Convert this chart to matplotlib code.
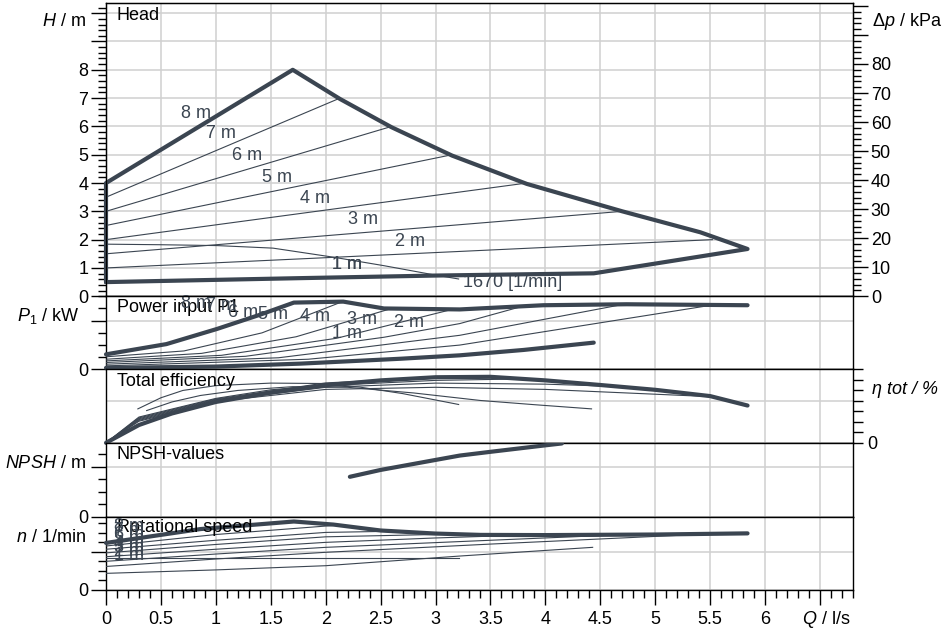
import matplotlib
matplotlib.use('Agg')
import matplotlib.pyplot as plt
from matplotlib.ticker import MultipleLocator, FixedLocator, FuncFormatter

plt.rcParams['font.family'] = ['Liberation Sans', 'DejaVu Sans']
plt.rcParams['mathtext.fontset'] = 'custom'
plt.rcParams['mathtext.rm'] = 'Liberation Sans'
plt.rcParams['mathtext.it'] = 'Liberation Sans:italic'

LINE = '#3b4551'
GRID = '#d0d0d0'
FS = 13
THICK = 3.0
THIN = 0.8

# ---------------- Head panel (H / m) ----------------
head_env_q = [0.0, 0.0, 1.70, 2.13, 2.60, 3.15, 3.83, 4.70, 5.41, 5.84, 4.44, 2.98, 1.77, 0.0]
head_env_h = [0.5, 4.0, 8.0, 6.97, 5.97, 4.97, 3.97, 3.0, 2.26, 1.67, 0.81, 0.73, 0.64, 0.5]
dpv_levels = ['7 m', '6 m', '5 m', '4 m', '3 m', '2 m']
dpv_h_start = [3.5, 3.0, 2.5, 2.0, 1.5, 1.0]
dpv_q_end = [2.13, 2.60, 3.15, 3.83, 4.70, 5.52]
dpv_h_end = [7.0, 6.0, 5.0, 4.0, 3.0, 2.0]
n1670_q = [0.0, 0.5, 1.01, 1.52, 2.07, 2.53, 2.98, 3.21]
n1670_h = [1.84, 1.82, 1.79, 1.70, 1.38, 1.08, 0.76, 0.61]
head_lbl = ['8 m', '7 m', '6 m', '5 m', '4 m', '3 m', '2 m', '1 m']
head_lbl_q = [0.82, 1.05, 1.28, 1.56, 1.90, 2.34, 2.77, 2.19]
head_lbl_h = [6.44, 5.74, 4.97, 4.19, 3.44, 2.71, 1.94, 1.11]

# ---------------- Power panel (P1 / kW) ----------------
pmax_q = [0.0, 0.55, 1.01, 1.40, 1.71, 2.16, 2.53, 3.22, 3.98, 4.74, 5.84]
pmax_p = [0.031, 0.052, 0.083, 0.112, 0.137, 0.139, 0.125, 0.123, 0.1316, 0.1336, 0.1316]
pmin_q = [0.0, 1.0, 1.77, 2.68, 3.22, 3.8, 4.44]
pmin_p = [0.0033, 0.006, 0.012, 0.022, 0.029, 0.040, 0.055]
p7_q = [0.0, 0.71, 1.42, 2.13]; p7_p = [0.026, 0.038, 0.075, 0.137]
p6_q = [0.0, 0.87, 1.73, 2.60]; p6_p = [0.021, 0.033, 0.067, 0.125]
p5_q = [0.0, 1.05, 2.10, 3.15]; p5_p = [0.0176, 0.029, 0.064, 0.123]
p4_q = [0.0, 1.27, 2.53, 3.22, 3.80]; p4_p = [0.0143, 0.027, 0.066, 0.094, 0.130]
p3_q = [0.0, 1.57, 3.22, 4.70]; p3_p = [0.0108, 0.024, 0.070, 0.133]
p2_q = [0.0, 1.84, 3.22, 5.52]; p2_p = [0.0074, 0.021, 0.050, 0.132]
pow_lbl = ['8 m', '7 m', '6 m', '5 m', '4 m', '3 m', '2 m', '1 m']
pow_lbl_q = [0.82, 1.05, 1.25, 1.52, 1.90, 2.33, 2.76, 2.19]
pow_lbl_p = [0.136, 0.132, 0.117, 0.113, 0.109, 0.103, 0.097, 0.074]

# ---------------- Efficiency panel (eta tot / %) ----------------
emax_q = [0.0, 0.3, 0.6, 1.0, 1.5, 2.0, 2.5, 3.0, 3.5, 4.0, 4.5, 5.0, 5.5, 5.84]
emax_e = [0.0, 8.5, 14.0, 19.5, 24.0, 27.5, 29.8, 31.3, 31.5, 29.8, 27.6, 25.3, 22.3, 17.8]
e7_q = [0.0, 0.3, 1.0, 1.5, 2.13]; e7_e = [0.0, 12.3, 21.2, 25.3, 28.2]
e6_q = [0.0, 0.3, 1.0, 2.0, 2.6]; e6_e = [0.0, 11.9, 20.9, 28.6, 30.1]
e5_q = [0.0, 0.3, 1.0, 2.0, 3.15]; e5_e = [0.0, 11.5, 20.6, 28.0, 31.3]
e4_q = [0.0, 0.3, 1.0, 2.0, 3.0, 3.8]; e4_e = [0.0, 11.1, 20.3, 27.3, 29.8, 30.5]
e3_q = [0.0, 0.3, 1.0, 2.0, 3.0, 4.0, 4.7]; e3_e = [0.0, 10.7, 20.0, 26.5, 28.5, 28.0, 26.8]
e2_q = [0.0, 0.3, 1.0, 2.0, 3.0, 4.0, 5.0, 5.52]; e2_e = [0.0, 10.3, 19.7, 25.5, 26.5, 25.5, 23.2, 22.0]
e1670_q = [0.29, 0.5, 0.7, 1.0, 1.5, 2.0, 2.31, 2.7, 3.21]
e1670_e = [16.2, 21.5, 25.0, 27.3, 28.5, 28.3, 26.6, 23.5, 18.3]
emin_q = [0.37, 0.6, 0.86, 1.2, 1.7, 2.2, 2.8, 3.41, 3.9, 4.42]
emin_e = [15.4, 19.5, 22.6, 25.0, 26.8, 26.5, 23.8, 20.2, 18.2, 16.2]

# ---------------- NPSH panel ----------------
npsh_q = [2.22, 2.5, 3.0, 3.22, 3.5, 4.0, 4.15]
npsh_v = [3.2, 3.75, 4.55, 4.9, 5.2, 5.72, 5.87]

# ---------------- Rotational speed panel (n / 1/min) ----------------
nmax_q = [0.0, 0.86, 1.71, 2.07, 2.5, 3.0, 3.41, 4.0, 5.0, 5.84]
nmax_n = [2460, 3185, 3580, 3420, 3110, 2950, 2880, 2870, 2900, 2960]
n7_q = [0.0, 1.0, 2.13]; n7_n = [2300, 2900, 3400]
n6_q = [0.0, 1.0, 2.0, 2.6]; n6_n = [2130, 2600, 3010, 3070]
n5_q = [0.0, 1.0, 2.0, 3.15]; n5_n = [1940, 2380, 2780, 2920]
n4_q = [0.0, 1.0, 2.0, 3.0, 3.8]; n4_n = [1740, 2130, 2490, 2720, 2870]
n3_q = [0.0, 1.0, 2.0, 3.5, 4.7]; n3_n = [1500, 1880, 2230, 2600, 2890]
n2_q = [0.0, 1.0, 2.0, 3.5, 5.52]; n2_n = [1230, 1620, 1970, 2400, 2940]
n1670_rq = [0.0, 3.21]; n1670_rn = [1670, 1670]
nmin_q = [0.0, 1.0, 2.0, 3.22, 4.43]; nmin_n = [870, 1050, 1270, 1775, 2230]
spd_lbl = ['8 m', '7 m', '6 m', '5 m', '4 m', '3 m', '2 m', '1 m']
spd_lbl_n = [3340, 3120, 2900, 2680, 2450, 2230, 2010, 1790]

# ---------------- Figure ----------------
fig = plt.figure(figsize=(9.44, 6.32), dpi=100)
gs = fig.add_gridspec(5, 1, height_ratios=[293.5, 73.3, 73.4, 74, 73.3],
                      left=106/944, right=853/944, top=1-3/632, bottom=1-590/632, hspace=0)
axH = fig.add_subplot(gs[0])
axP = fig.add_subplot(gs[1], sharex=axH)
axE = fig.add_subplot(gs[2], sharex=axH)
axN = fig.add_subplot(gs[3], sharex=axH)
axS = fig.add_subplot(gs[4], sharex=axH)
axes = [axH, axP, axE, axN, axS]

for ax in axes:
    ax.set_xlim(0, 6.8)
    for s in ax.spines.values():
        s.set_linewidth(1.0)
        s.set_color('black')
    ax.xaxis.set_major_locator(MultipleLocator(0.5))
    ax.xaxis.set_minor_locator(MultipleLocator(0.1))
    ax.grid(which='major', axis='x', color=GRID, lw=1.1, zorder=0)
    ax.grid(which='major', axis='y', color=GRID, lw=1.1, zorder=0)
    ax.set_axisbelow(True)
    if ax is not axS:
        ax.tick_params(axis='x', which='both', bottom=False, labelbottom=False)

def lab0(maxv):
    return FuncFormatter(lambda v, p: ('%g' % v) if v <= maxv + 1e-9 else '')

# Head axis
axH.set_ylim(0, 10.36)
axH.yaxis.set_major_locator(MultipleLocator(1))
axH.yaxis.set_minor_locator(MultipleLocator(0.2))
axH.yaxis.set_major_formatter(lab0(8))
axH.tick_params(axis='y', which='major', length=10.8, width=1, pad=2, labelsize=FS)
axH.tick_params(axis='y', which='minor', length=5.5, width=1)
axHr = axH.twinx()
axHr.set_ylim(0, 101)
axHr.yaxis.set_major_locator(MultipleLocator(10))
axHr.yaxis.set_minor_locator(MultipleLocator(2))
axHr.yaxis.set_major_formatter(lab0(80))
axHr.tick_params(axis='y', which='major', length=10.8, width=1, pad=2, labelsize=FS)
axHr.tick_params(axis='y', which='minor', length=5.5, width=1)

axH.plot(head_env_q, head_env_h, color=LINE, lw=THICK, solid_joinstyle='round',
         solid_capstyle='round', clip_on=False, zorder=4)
for hs, qe, he in zip(dpv_h_start, dpv_q_end, dpv_h_end):
    axH.plot([0.0, qe], [hs, he], color=LINE, lw=THIN, zorder=3)
axH.plot(n1670_q, n1670_h, color=LINE, lw=THIN, zorder=3)
axH.text(3.25, 0.48, '1670 [1/min]', color=LINE, fontsize=FS, ha='left', va='center')
for t, q, h in zip(head_lbl, head_lbl_q, head_lbl_h):
    axH.text(q, h, t, color=LINE, fontsize=FS, ha='center', va='center', zorder=5)
axH.text(2.19, 1.11, '1 m', color=LINE, fontsize=FS, ha='center', va='center', zorder=5)
axH.text(0.1, 9.92, 'Head', fontsize=FS, ha='left', va='center')

# Power axis
axP.set_ylim(0, 0.15)
axP.yaxis.set_major_locator(FixedLocator([0, 0.1]))
axP.yaxis.set_minor_locator(MultipleLocator(0.025))
axP.yaxis.set_major_formatter(FuncFormatter(lambda v, p: '0' if abs(v) < 1e-9 else ''))
axP.tick_params(axis='y', which='major', length=10.8, width=1, pad=2, labelsize=FS)
axP.tick_params(axis='y', which='minor', length=5.5, width=1)
for q, p in [(p7_q, p7_p), (p6_q, p6_p), (p5_q, p5_p), (p4_q, p4_p), (p3_q, p3_p), (p2_q, p2_p)]:
    axP.plot(q, p, color=LINE, lw=THIN, zorder=3)
axP.plot(pmax_q, pmax_p, color=LINE, lw=THICK, solid_capstyle='round', clip_on=False, zorder=4)
axP.plot(pmin_q, pmin_p, color=LINE, lw=THICK, solid_capstyle='round', clip_on=False, zorder=4)
axP.text(0.1, 0.1275, 'Power input P1', fontsize=FS, ha='left', va='center', zorder=5)
for t, q, p in zip(pow_lbl, pow_lbl_q, pow_lbl_p):
    axP.text(q, p, t, color=LINE, fontsize=FS, ha='center', va='center', zorder=5)

# Efficiency axis (right side)
axE.set_ylim(0, 35)
axE.yaxis.tick_right()
axE.yaxis.set_major_locator(FixedLocator([0, 20]))
axE.yaxis.set_minor_locator(MultipleLocator(5))
axE.yaxis.set_major_formatter(FuncFormatter(lambda v, p: '0' if abs(v) < 1e-9 else ''))
axE.tick_params(axis='y', which='both', length=7.2, width=1, pad=3, labelsize=FS)
for q, e in [(e7_q, e7_e), (e6_q, e6_e), (e5_q, e5_e), (e4_q, e4_e), (e3_q, e3_e), (e2_q, e2_e),
             (e1670_q, e1670_e), (emin_q, emin_e)]:
    axE.plot(q, e, color=LINE, lw=THIN, zorder=3)
axE.plot(emax_q, emax_e, color=LINE, lw=THICK, solid_capstyle='round', clip_on=False, zorder=4)
axE.text(0.1, 29.4, 'Total efficiency', fontsize=FS, ha='left', va='center', zorder=5)

# NPSH axis
axN.set_ylim(0, 5.92)
axN.yaxis.set_major_locator(FixedLocator([0, 4]))
axN.yaxis.set_minor_locator(MultipleLocator(1))
axN.yaxis.set_major_formatter(FuncFormatter(lambda v, p: '0' if abs(v) < 1e-9 else ''))
axN.tick_params(axis='y', which='major', length=10.8, width=1, pad=2, labelsize=FS)
axN.tick_params(axis='y', which='minor', length=5.5, width=1)
axN.plot(npsh_q, npsh_v, color=LINE, lw=THICK, solid_capstyle='round', zorder=4)
axN.text(0.1, 5.0, 'NPSH-values', fontsize=FS, ha='left', va='center')

# Rotational speed axis
axS.set_ylim(0, 3828)
axS.yaxis.set_major_locator(FixedLocator([0, 2000]))
axS.yaxis.set_minor_locator(MultipleLocator(500))
axS.yaxis.set_major_formatter(FuncFormatter(lambda v, p: '0' if abs(v) < 1e-9 else ''))
axS.tick_params(axis='y', which='major', length=10.8, width=1, pad=2, labelsize=FS)
axS.tick_params(axis='y', which='minor', length=5.5, width=1)
for q, n in [(n7_q, n7_n), (n6_q, n6_n), (n5_q, n5_n), (n4_q, n4_n), (n3_q, n3_n), (n2_q, n2_n),
             (n1670_rq, n1670_rn), (nmin_q, nmin_n)]:
    axS.plot(q, n, color=LINE, lw=THIN, zorder=3)
axS.plot(nmax_q, nmax_n, color=LINE, lw=THICK, solid_capstyle='round', clip_on=False, zorder=4)
axS.text(0.1, 3290, 'Rotational speed', fontsize=FS, ha='left', va='center', zorder=5)
for t, n in zip(spd_lbl, spd_lbl_n):
    axS.text(0.07, n, t, color=LINE, fontsize=FS, ha='left', va='center', zorder=5)

axS.xaxis.set_major_formatter(FuncFormatter(lambda v, p: ('%g' % v) if v <= 6.0 + 1e-9 else ''))
axS.tick_params(axis='x', which='major', length=10.8, width=1, pad=4, labelsize=FS)
axS.tick_params(axis='x', which='minor', length=5.8, width=1)

# Axis titles
fig.text(86/944, 1-22/632, '$H$ / m', ha='right', va='center', fontsize=FS)
fig.text(872/944, 1-22/632, 'Δ$p$ / kPa', ha='left', va='center', fontsize=FS)
fig.text(79/944, 1-316/632, '$P_1$ / kW', ha='right', va='center', fontsize=FS)
fig.text(872/944, 1-390/632, 'η tot / %', ha='left', va='center', fontsize=FS, style='italic')
fig.text(86/944, 1-464/632, '$NPSH$ / m', ha='right', va='center', fontsize=FS)
fig.text(86/944, 1-538/632, '$n$ / 1/min', ha='right', va='center', fontsize=FS)
fig.text(826/944, 1-620/632, '$Q$ / l/s', ha='center', va='center', fontsize=FS)

fig.savefig('out.png', dpi=100)
